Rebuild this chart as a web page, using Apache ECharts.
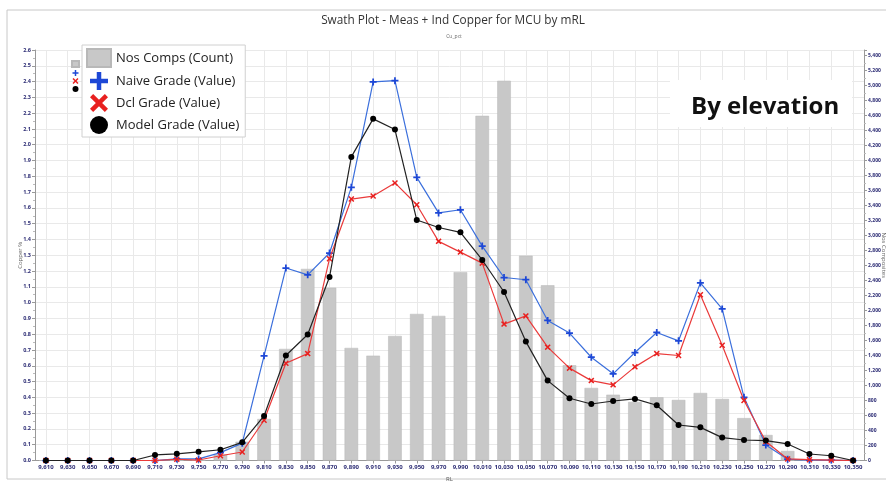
<!DOCTYPE html>
<html>
<head>
<meta charset="utf-8">
<script src="https://cdn.jsdelivr.net/npm/echarts@6/dist/echarts.min.js"></script>
<style>
  html, body { margin: 0; padding: 0; background: #fff; }
  #chart { width: 886px; height: 484px; }
</style>
</head>
<body>
<div id="chart"></div>
<script>
// elevation bins (RL)
var rl = [9610, 9630, 9650, 9670, 9690, 9710, 9730, 9750, 9770, 9790,
  9810, 9830, 9850, 9870, 9890, 9910, 9930, 9950, 9970, 9990,
  10010, 10030, 10050, 10070, 10090, 10110, 10130, 10150, 10170, 10190,
  10210, 10230, 10250, 10270, 10290, 10310, 10330, 10350]

// Nos Comps (Count) - right axis
var nosComps = [0, 0, 0, 0, 0, 0, 0, 0, 80, 250,
  553, 1487, 2553, 2303, 1500, 1397, 1660, 1953, 1927, 2510,
  4593, 5060, 2730, 2335, 1269, 967, 877, 780, 842, 807,
  900, 820, 565, 340, 127, 0, 0, 0]

// Naive Grade (Value)
var naiveGrade = [0, 0, 0, 0, 0, 0, 0.01, 0.01, 0.05, 0.11,
  0.663, 1.219, 1.176, 1.314, 1.73, 2.398, 2.406, 1.793, 1.568, 1.588,
  1.358, 1.159, 1.145, 0.887, 0.807, 0.654, 0.549, 0.684, 0.811, 0.758,
  1.125, 0.96, 0.4, 0.098, 0.008, 0.003, 0.003, 0]

// Dcl Grade (Value)
var dclGrade = [0, 0, 0, 0, 0, 0, 0.008, 0.003, 0.03, 0.054,
  0.255, 0.616, 0.677, 1.278, 1.656, 1.675, 1.758, 1.62, 1.388, 1.32,
  1.25, 0.864, 0.916, 0.718, 0.585, 0.506, 0.479, 0.593, 0.677, 0.665,
  1.05, 0.73, 0.38, 0.12, 0.01, 0.005, 0.003, 0]

// Model Grade (Value)
var modelGrade = [0, 0, 0, 0, 0, 0.035, 0.042, 0.055, 0.068, 0.115,
  0.282, 0.665, 0.798, 1.162, 1.923, 2.164, 2.096, 1.523, 1.476, 1.445,
  1.27, 1.067, 0.753, 0.506, 0.394, 0.358, 0.377, 0.39, 0.35, 0.225,
  0.21, 0.145, 0.13, 0.126, 0.105, 0.041, 0.03, 0]

var PLUS = 'path://M3,0h2v3h3v2h-3v3h-2v-3h-3v-2h3z'
var CROSS = 'path://M0,1.4L1.4,0L4,2.6L6.6,0L8,1.4L5.4,4L8,6.6L6.6,8L4,5.4L1.4,8L0,6.6L2.6,4z'

var labelColor = '#2c2c74'
var gridColor = '#e9e9e9'

var myChart = echarts.init(document.getElementById('chart'))

function fmtThousands(v) {
  return String(v).replace(/\B(?=(\d{3})+(?!\d))/g, ',')
}

var legendNames = ['Nos Comps (Count)', 'Naive Grade (Value)', 'Dcl Grade (Value)', 'Model Grade (Value)']
var legendIcons = ['rect', PLUS, CROSS, 'circle']

var option = {
  backgroundColor: '#fff',
  animation: false,
  textStyle: { fontFamily: 'Open Sans, sans-serif' },
  title: [
    {
      text: 'Swath Plot - Meas + Ind Copper for MCU by mRL',
      left: 448,
      top: 10,
      textAlign: 'center',
      textStyle: { fontSize: 11.8, fontWeight: 'normal', color: '#333' }
    },
    {
      text: 'Cu_pct',
      left: 449,
      top: 29,
      textAlign: 'center',
      textStyle: { fontSize: 5, fontWeight: 'normal', color: '#666' }
    }
  ],
  graphic: [
    {
      type: 'rect',
      silent: true,
      shape: { x: 7, y: 10, width: 900, height: 469 },
      style: { fill: 'none', stroke: '#c8c8c8', lineWidth: 1 },
      z: -10
    },
    {
      type: 'rect',
      shape: { x: 670, y: 80, width: 182, height: 47 },
      style: { fill: '#fff' },
      z: 50
    },
    {
      type: 'text',
      left: 691,
      top: 95,
      style: { text: 'By elevation', fontSize: 24, fontWeight: 'bold', fill: '#111', fontFamily: 'Open Sans, sans-serif' },
      z: 51
    }
  ],
  legend: [
    {
      data: legendNames.map(function (n, i) { return { name: n, icon: legendIcons[i] } }),
      orient: 'vertical',
      left: 82,
      top: 45,
      backgroundColor: '#fff',
      borderColor: '#d0d0d0',
      borderWidth: 1,
      padding: [3, 6, 3, 4],
      itemGap: 4,
      itemWidth: 24,
      itemHeight: 18,
      textStyle: { fontSize: 13, color: '#222' },
      z: 20
    },
    {
      data: legendNames.map(function (n, i) { return { name: n, icon: legendIcons[i] } }),
      orient: 'vertical',
      left: 71,
      top: 60,
      padding: 0,
      itemGap: 2,
      itemWidth: 7,
      itemHeight: 6,
      formatter: function () { return '' },
      z: 10
    }
  ],
  grid: { left: 35, right: 22, top: 50, bottom: 23.5, containLabel: false, outerBoundsMode: 'none' },
  xAxis: {
    type: 'category',
    data: rl,
    name: 'RL',
    nameLocation: 'middle',
    nameGap: 16,
    nameMoveOverlap: false,
    nameTextStyle: { fontSize: 6, color: '#555' },
    axisLine: { lineStyle: { color: '#999' } },
    axisTick: { show: true, alignWithLabel: true, length: 3, lineStyle: { color: '#999' } },
    axisLabel: {
      interval: 0,
      fontSize: 6,
      fontWeight: 'bold',
      color: labelColor,
      margin: 4,
      formatter: function (v) { return fmtThousands(v) }
    },
    splitLine: { show: true, alignWithLabel: true, lineStyle: { color: gridColor } }
  },
  yAxis: [
    {
      type: 'value',
      min: 0,
      max: 2.6,
      interval: 0.1,
      name: 'Copper %',
      nameLocation: 'middle',
      nameGap: 12,
      nameMoveOverlap: false,
      nameTextStyle: { fontSize: 6, color: '#666' },
      axisLine: { show: true, lineStyle: { color: '#999' } },
      axisTick: { show: true, length: 3, lineStyle: { color: '#999' } },
      minorTick: { show: true, splitNumber: 2, length: 2, lineStyle: { color: '#bbb' } },
      axisLabel: {
        fontSize: 5.5,
        fontWeight: 'bold',
        color: labelColor,
        margin: 4,
        formatter: function (v) { return v.toFixed(1) }
      },
      splitLine: { show: true, lineStyle: { color: gridColor } }
    },
    {
      type: 'value',
      min: 0,
      max: 5470,
      interval: 200,
      position: 'right',
      name: 'Nos Composites',
      nameLocation: 'middle',
      nameRotate: -90,
      nameGap: 17,
      nameMoveOverlap: false,
      nameTextStyle: { fontSize: 6, color: '#666' },
      axisLine: { show: true, lineStyle: { color: '#999' } },
      axisTick: { show: true, length: 3, lineStyle: { color: '#999' } },
      minorTick: { show: true, splitNumber: 2, length: 2, lineStyle: { color: '#bbb' } },
      axisLabel: {
        fontSize: 5,
        fontWeight: 'bold',
        color: labelColor,
        margin: 4,
        showMaxLabel: false,
        formatter: function (v) { return fmtThousands(v) }
      },
      splitLine: { show: false }
    }
  ],
  series: [
    {
      name: 'Nos Comps (Count)',
      type: 'bar',
      yAxisIndex: 1,
      barWidth: '62%',
      itemStyle: { color: '#c8c8c8', borderColor: '#b8b8b8', borderWidth: 0.5 },
      data: nosComps,
      z: 1
    },
    {
      name: 'Naive Grade (Value)',
      type: 'line',
      yAxisIndex: 0,
      symbol: PLUS,
      symbolSize: 7,
      lineStyle: { color: '#3b6fdc', width: 1.2 },
      itemStyle: { color: '#1d47d6' },
      data: naiveGrade,
      z: 3
    },
    {
      name: 'Dcl Grade (Value)',
      type: 'line',
      yAxisIndex: 0,
      symbol: CROSS,
      symbolSize: 6,
      lineStyle: { color: '#ea3a3a', width: 1.2 },
      itemStyle: { color: '#e8201f' },
      data: dclGrade,
      z: 4
    },
    {
      name: 'Model Grade (Value)',
      type: 'line',
      yAxisIndex: 0,
      symbol: 'circle',
      symbolSize: 6,
      lineStyle: { color: '#222', width: 1.2 },
      itemStyle: { color: '#000' },
      data: modelGrade,
      z: 5
    }
  ]
}

myChart.setOption(option)
</script>
</body>
</html>
